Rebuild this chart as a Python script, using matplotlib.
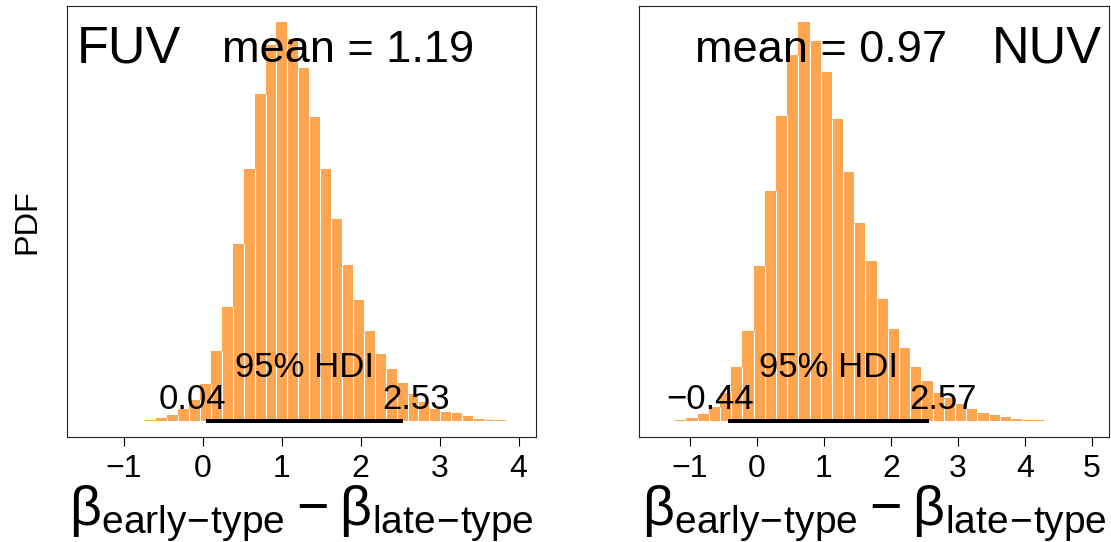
import numpy as np
import matplotlib
matplotlib.use("Agg")
import matplotlib.pyplot as plt

plt.rcParams['font.family'] = ['Liberation Sans', 'DejaVu Sans']
plt.rcParams['mathtext.fontset'] = 'custom'
plt.rcParams['mathtext.rm'] = 'Liberation Sans'
plt.rcParams['mathtext.default'] = 'regular'

# posterior histograms (density), breaks are regular with width = diff(HDI)/18
fuv_density = [0.0006, 0.002, 0.006, 0.011, 0.022, 0.039, 0.068, 0.129, 0.212,
               0.329, 0.468, 0.606, 0.698, 0.740, 0.708, 0.654, 0.564, 0.467,
               0.375, 0.289, 0.225, 0.167, 0.124, 0.096, 0.070, 0.051, 0.036,
               0.022, 0.017, 0.015, 0.009, 0.004, 0.002, 0.0013, 0.0008, 0.0006]
nuv_density = [0.0005, 0.0008, 0.0016, 0.0048, 0.011, 0.023, 0.044, 0.085, 0.142,
               0.246, 0.364, 0.483, 0.580, 0.632, 0.602, 0.553, 0.479, 0.395,
               0.313, 0.253, 0.193, 0.146, 0.115, 0.085, 0.063, 0.045, 0.036,
               0.027, 0.019, 0.013, 0.010, 0.006, 0.004, 0.002, 0.0011, 0.0007,
               0.0005]
fuv_first_break = -0.865
nuv_first_break = -1.557
fuv_hdi = (0.04, 2.53)
nuv_hdi = (-0.44, 2.57)
fuv_mean = 1.19
nuv_mean = 0.97
fuv_xlim = (-1.5, 4)
nuv_xlim = (-1.5, 5)
fuv_ticks = [-1, 0, 1, 2, 3, 4]
nuv_ticks = [-1, 0, 1, 2, 3, 4, 5]

bar_color = '#FFA54F'
xlab = r'$\beta_{\mathrm{early\!-\!type}} - \beta_{\mathrm{late\!-\!type}}$'

fig = plt.figure(figsize=(11.11, 5.42), dpi=100)
ax1 = fig.add_axes([0.0603, 0.1937, 0.4221, 0.7952])
ax2 = fig.add_axes([0.5754, 0.1937, 0.4228, 0.7952])


def draw_panel(ax, dens, first_break, hdi, xlim, ticks):
    dens = np.array(dens)
    bw = (hdi[1] - hdi[0]) / 18
    lefts = first_break + bw * np.arange(len(dens))
    ax.bar(lefts, dens, width=bw, align='edge', color=bar_color, linewidth=0)
    # white borders between neighbouring bars
    inner = lefts[1:]
    ax.vlines(inner, 0, np.minimum(dens[:-1], dens[1:]), colors='white', lw=0.8)
    ymax = dens.max()
    ax.set_ylim(-0.04 * ymax, 1.04 * ymax)
    pad = 0.04 * (xlim[1] - xlim[0])
    ax.set_xlim(xlim[0] - pad, xlim[1] + pad)
    ax.set_xticks(ticks)
    ax.set_xticklabels([str(t).replace('-', '\u2212') for t in ticks])
    ax.set_yticks([])
    ax.tick_params(axis='x', direction='out', length=6.5, width=0.8,
                   labelsize=23, pad=5.5)
    for s in ax.spines.values():
        s.set_linewidth(0.8)
        s.set_color('#222222')
    # HDI bar and labels
    ax.plot(hdi, [0, 0], color='black', lw=2.9, solid_capstyle='butt')
    ax.annotate('95% HDI', xy=(np.mean(hdi), 0), xytext=(0, 32),
                textcoords='offset points', ha='center', va='baseline',
                fontsize=25)
    labels = []
    for x, frac in [(hdi[0], 0.7), (hdi[1], 0.3)]:
        t = ax.annotate('%.2f' % x if x >= 0 else '\u2212%.2f' % -x,
                        xy=(x, 0), xytext=(0, 8.4), textcoords='offset points',
                        ha='left', va='baseline', fontsize=25)
        labels.append((t, frac))
    ax.set_xlabel(xlab, fontsize=40, labelpad=0)
    return labels


lab1 = draw_panel(ax1, fuv_density, fuv_first_break, fuv_hdi, fuv_xlim, fuv_ticks)
lab2 = draw_panel(ax2, nuv_density, nuv_first_break, nuv_hdi, nuv_xlim, nuv_ticks)

ax1.set_ylabel('PDF', fontsize=23.4, labelpad=18)

ax1.text(0.021, 0.869, 'FUV', transform=ax1.transAxes, fontsize=37.5,
         ha='left', va='baseline')
ax1.text(0.599, 0.871, 'mean = %.2f' % fuv_mean, transform=ax1.transAxes,
         fontsize=32.5, ha='center', va='baseline')
ax2.text(0.984, 0.869, 'NUV', transform=ax2.transAxes, fontsize=37.5,
         ha='right', va='baseline')
ax2.text(0.3875, 0.871, 'mean = %.2f' % nuv_mean, transform=ax2.transAxes,
         fontsize=32.5, ha='center', va='baseline')

# shift HDI limit labels so the value sits at 70% / 30% of the text width
renderer = fig.canvas.get_renderer()
for t, frac in lab1 + lab2:
    w = t.get_window_extent(renderer).width
    t.xyann = (-frac * w * 72 / fig.dpi, 8.4)

fig.savefig('out.png', dpi=100)
